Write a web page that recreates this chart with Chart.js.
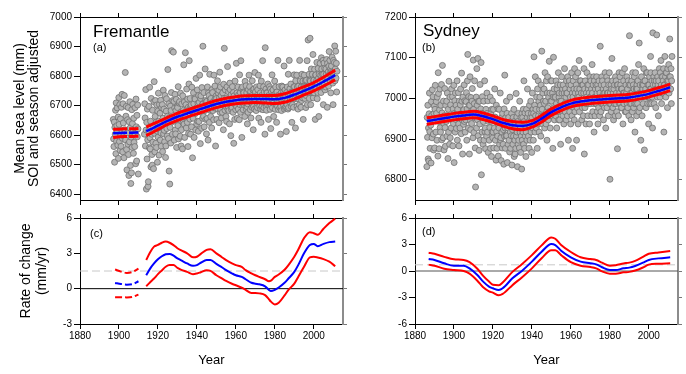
<!DOCTYPE html>
<html>
<head>
<meta charset="utf-8">
<script src="https://cdn.jsdelivr.net/npm/chart.js@4.4.1/dist/chart.umd.min.js"></script>
<style>
  body { margin: 0; background: #fff; }
  #wrap { position: relative; width: 686px; height: 374px; }
  canvas { position: absolute; }
</style>
</head>
<body>
<div id="wrap">
  <canvas id="fremLevel" width="351" height="212" style="left:0;top:0"></canvas>
  <canvas id="sydLevel" width="346" height="212" style="left:340px;top:0"></canvas>
  <canvas id="fremRate" width="351" height="174" style="left:0;top:200px"></canvas>
  <canvas id="sydRate" width="346" height="174" style="left:340px;top:200px"></canvas>
</div>
<script>
const FONT = '"Liberation Sans", Arial, sans-serif';

// tick labels
const yearTicks = [1880, 1900, 1920, 1940, 1960, 1980, 2000];
const fremLevelTicks = [6400, 6500, 6600, 6700, 6800, 6900, 7000];
const sydLevelTicks = [6800, 6900, 7000, 7100, 7200];
const fremRateTicks = [-3, 0, 3, 6];
const sydRateTicks = [-6, -3, 0, 3, 6];

// mean sea level samples (mm), [year, values...]
const fremLevels = [
  [1897, 6653,6587,6561,6644,6508,6626], [1898, 6603,6684,6537,6709,6579,6632],
  [1899, 6692,6614,6566,6661,6521,6727], [1900, 6636,6578,6703,6548,6655,6598],
  [1901, 6562,6694,6617,6738,6589,6543], [1902, 6706,6641,6597,6523,6734,6612],
  [1903, 6618,6812,6583,6664,6697,6551], [1904, 6482,6607,6652,6569,6693,6534],
  [1905, 6463,6645,6577,6713,6624,6497], [1906, 6436,6593,6472,6686,6558,6639],
  [1907, 6704,6612,6538,6657,6575,6606], [1908, 6561,6693,6604,6503,6722,6628],
  [1909, 6512,6667,6594,6702,6621,6468],
  [1913, 6603,6706,6658,6563,6754,6617], [1914, 6417,6643,6519,6688,6584,6426],
  [1915, 6442,6614,6697,6557,6762,6591], [1916, 6553,6647,6492,6724,6603,6534],
  [1917, 6498,6684,6576,6626,6486,6713], [1918, 6781,6606,6543,6663,6717,6572],
  [1919, 6644,6558,6702,6613,6508,6681], [1920, 6593,6742,6647,6532,6704,6618],
  [1921, 6674,6583,6718,6607,6562,6693], [1922, 6628,6703,6544,6657,6752,6604],
  [1923, 6688,6616,6577,6734,6642,6524], [1924, 6563,6681,6723,6622,6597,6664],
  [1925, 6822,6643,6588,6706,6478,6659], [1926, 6434,6626,6698,6573,6683,6744],
  [1927, 6886,6657,6603,6717,6646,6881], [1928, 6651,6714,6583,6692,6738,6617],
  [1929, 6604,6683,6721,6558,6652,6697], [1930, 6693,6632,6764,6587,6663,6708],
  [1931, 6713,6654,6596,6742,6677,6563], [1932, 6618,6706,6668,6553,6733,6642],
  [1933, 6684,6838,6637,6712,6592,6665], [1934, 6879,6661,6703,6624,6756,6687],
  [1935, 6643,6722,6561,6694,6606,6773], [1936, 6852,6688,6654,6724,6603,6698],
  [1937, 6703,6628,6762,6677,6523,6664], [1938, 6657,6743,6706,6592,6688,6726],
  [1939, 6722,6673,6617,6792,6684,6638], [1940, 6694,6753,6647,6708,6613,6734],
  [1941, 6646,6711,6803,6683,6571,6724], [1942, 6733,6677,6623,6761,6703,6657],
  [1943, 6901,6706,6663,6744,6628,6692], [1944, 6683,6824,6717,6653,6712,6604],
  [1945, 6714,6656,6763,6693,6583,6742], [1946, 6698,6734,6643,6806,6684,6718],
  [1947, 6663,6724,6687,6624,6754,6696], [1948, 6744,6683,6713,6652,6803,6697],
  [1949, 6692,6766,6723,6563,6704,6733], [1950, 6724,6653,6697,6784,6688,6743],
  [1951, 6703,6752,6642,6726,6813,6677], [1952, 6763,6687,6734,6658,6714,6703],
  [1953, 6677,6743,6706,6618,6772,6724], [1954, 6894,6713,6684,6753,6697,6663],
  [1955, 6724,6646,6763,6704,6832,6687], [1956, 6697,6746,6683,6723,6638,6776],
  [1957, 6754,6703,6598,6736,6687,6716], [1958, 6693,6764,6717,6677,6744,6572],
  [1959, 6733,6706,6653,6783,6714,6686], [1960, 6716,6843,6697,6743,6657,6724],
  [1961, 6763,6688,6736,6713,6652,6804], [1962, 6703,6744,6677,6852,6726,6758],
  [1963, 6592,6724,6763,6697,6686,6746], [1964, 6743,6703,6726,6663,6782,6707],
  [1965, 6724,6767,6687,6743,6696,6638], [1966, 6706,6677,6754,6723,6803,6733],
  [1967, 6764,6713,6686,6747,6658,6724], [1968, 6733,6694,6784,6706,6753,6618],
  [1969, 6697,6756,6723,6688,6812,6743], [1970, 6746,6717,6683,6763,6697,6734],
  [1971, 6693,6754,6726,6803,6657,6713], [1972, 6724,6698,6767,6743,6688,6643],
  [1973, 6783,6734,6697,6727,6852,6686], [1974, 6713,6764,6693,6746,6717,6603],
  [1975, 6896,6723,6756,6697,6684,6744], [1976, 6743,6703,6773,6726,6653,6734],
  [1977, 6717,6764,6698,6687,6756,6622], [1978, 6703,6746,6733,6804,6693,6717],
  [1979, 6753,6708,6663,6734,6726,6783], [1980, 6724,6687,6763,6743,6704,6643],
  [1981, 6746,6717,6697,6853,6734,6686], [1982, 6713,6764,6727,6693,6724,6603],
  [1983, 6697,6743,6683,6766,6717,6736], [1984, 6763,6724,6703,6747,6834,6688],
  [1985, 6726,6753,6693,6733,6697,6612], [1986, 6744,6703,6763,6718,6688,6806],
  [1987, 6693,6734,6853,6713,6757,6724], [1988, 6736,6773,6697,6746,6643,6723],
  [1989, 6703,6746,6724,6694,6763,6804], [1990, 6764,6723,6743,6624,6784,6736],
  [1991, 6746,6803,6697,6763,6726,6688], [1992, 6723,6766,6744,6703,6853,6734],
  [1993, 6784,6743,6694,6763,6717,6806], [1994, 6753,6726,6783,6653,6744,6766],
  [1995, 6803,6763,6724,6746,6784,6693], [1996, 6734,6786,6763,6852,6703,6753],
  [1997, 6922,6764,6743,6806,6724,6786], [1998, 6928,6783,6703,6766,6824,6746],
  [1999, 6763,6806,6744,6873,6726,6784], [2000, 6786,6743,6823,6764,6653,6803],
  [2001, 6804,6763,6784,6846,6723,6776], [2002, 6744,6826,6793,6663,6806,6764],
  [2003, 6783,6843,6766,6803,6744,6862], [2004, 6824,6763,6806,6784,6853,6703],
  [2005, 6806,6844,6774,6826,6753,6793], [2006, 6763,6824,6806,6856,6783,6694],
  [2007, 6843,6793,6814,6766,6833,6883], [2008, 6806,6853,6784,6824,6743,6816],
  [2009, 6834,6793,6864,6813,6776,6703], [2010, 6853,6816,6793,6846,6902,6784],
  [2011, 6824,6884,6793,6843,6746,6816]
];

const sydLevels = [
  [1886, 6832,6953,6904,6983,6851,6927], [1887, 6846,6962,7013,6918,6877,6943],
  [1888, 6934,6841,6992,6958,6903,7021], [1889, 6948,7004,6912,6873,6963,6981],
  [1890, 6878,6973,7032,6944,6917,6992], [1891, 6963,6897,7003,6947,6858,7063],
  [1892, 7012,6943,6876,6972,7023,6928], [1893, 6917,6983,6952,7034,6898,6964],
  [1894, 7081,6954,6903,6993,6938,6873], [1895, 6957,7024,6928,6882,6983,6947],
  [1896, 6943,6993,6907,7013,6958,6852], [1897, 6973,6917,7042,6953,6887,7003],
  [1898, 6903,6984,6957,6927,7023,6952], [1899, 6947,7004,6883,6974,6938,7032],
  [1900, 6842,6963,6994,6917,7013,6948], [1901, 6983,6926,6963,7043,6897,6973],
  [1902, 6958,7014,6937,6883,6993,6952], [1903, 6927,6984,7023,6957,6913,7062],
  [1904, 6993,6947,6863,7003,6967,6936], [1905, 6972,7033,6943,6994,6917,6958],
  [1906, 6947,6992,7014,6897,6974,7043], [1907, 7108,6957,6927,7004,6983,6863],
  [1908, 6983,7053,6946,6923,7002,6968], [1909, 6938,6993,7024,6957,6903,7094],
  [1910, 6973,6916,6987,7043,6953,6878], [1911, 6782,6964,7003,6927,7073,6983],
  [1912, 6947,7098,6908,6993,6963,6872], [1913, 6993,6937,7034,6897,6974,7088],
  [1914, 6812,6963,6917,7004,6948,6887], [1915, 6943,6993,6897,6964,7043,6918],
  [1916, 6927,6876,6973,6952,6907,7013], [1917, 6963,6917,6994,6867,6943,6953],
  [1918, 6897,6953,6928,7003,6877,6964], [1919, 6943,6857,6973,6918,6994,6903],
  [1920, 6917,6973,6878,6953,6927,7023], [1921, 6954,6897,6943,6848,6983,6918],
  [1922, 6877,6943,6907,6974,6858,6933], [1923, 6927,6973,6887,6943,7013,6897],
  [1924, 6903,6847,6953,6917,6878,6963], [1925, 6943,6887,6923,6838,6974,6907],
  [1926, 7057,6927,6877,6953,6908,6993], [1927, 6908,6963,6842,6927,6887,6943],
  [1928, 6953,6897,6934,6868,7003,6917], [1929, 6877,6943,6908,6963,6836,6927],
  [1930, 6923,6887,6953,6907,6973,6857], [1931, 6943,6897,6863,6927,6877,7012],
  [1932, 6907,6954,6917,6832,6943,6887], [1933, 6963,6897,6936,6878,6993,6917],
  [1934, 6927,6867,6953,6907,6826,6963], [1935, 6897,6953,6917,6973,6887,7043],
  [1936, 6943,6877,6964,6907,6933,6857], [1937, 6917,6973,6897,6953,7023,6937],
  [1938, 6963,6907,6943,6877,6983,6927], [1939, 6897,6953,6993,6917,6963,6867],
  [1940, 6953,7013,6927,6973,6897,6963], [1941, 7102,6937,6983,6917,7053,6957],
  [1942, 6973,6927,7003,6947,6877,7023], [1943, 6937,7043,6957,6993,6917,6973],
  [1944, 7003,6947,6983,6907,7033,6957], [1945, 7116,6973,6937,7013,6957,6993],
  [1946, 6957,7023,6987,6927,7063,6947], [1947, 6993,6937,7043,6967,6897,7013],
  [1948, 7053,6977,6947,7003,6967,7091], [1949, 6967,7013,6927,6993,7043,6957],
  [1950, 6993,7043,6957,7013,6877,7003], [1951, 7101,6977,7023,6947,7003,6967],
  [1952, 7003,6957,7043,6987,6927,7023], [1953, 6977,7033,6967,7063,6947,7003],
  [1954, 7013,6947,6993,7033,6887,6977], [1955, 6993,7053,7013,6967,7023,6957],
  [1956, 7033,6977,6937,7013,7073,6987], [1957, 6967,7023,7003,6947,7043,7013],
  [1958, 7013,6957,7053,6987,6897,7033], [1959, 6987,7043,6967,7023,7003,6937],
  [1960, 7033,6987,7063,6957,7013,6877], [1961, 7003,7043,6977,7023,6947,7073],
  [1962, 6967,7013,7053,6987,7033,6897], [1963, 7023,6977,7003,7063,6937,7013],
  [1964, 7003,7093,6967,7023,6987,7043], [1965, 7043,6987,7013,6947,7033,6977],
  [1966, 6987,7033,6957,7013,7073,6863], [1967, 7023,6977,7043,6987,6937,7013],
  [1968, 7003,7063,6987,7033,6957,7023], [1969, 7033,6987,7013,6937,7053,7003],
  [1970, 6987,7043,7003,7023,6957,7083], [1971, 7013,6967,7033,6987,7053,6917],
  [1972, 7043,7003,6957,7023,6987,7033], [1973, 6987,7053,7013,6967,7033,6937],
  [1974, 7023,6977,7043,7003,6957,7013], [1975, 7128,7003,6967,7033,6987,7053],
  [1976, 7003,7043,6987,7023,6947,7013], [1977, 7033,6977,7013,7063,7003,6927],
  [1978, 6987,7023,7053,6977,7013,7043], [1979, 7013,6957,7033,7003,7063,6987],
  [1980, 6801,7013,6987,7033,6967,7023], [1981, 7098,7003,7043,6977,7013,6947],
  [1982, 7023,6987,7033,7003,6957,7053], [1983, 6987,7043,7013,6967,7033,6876],
  [1984, 7033,7003,6957,7023,7063,6987], [1985, 7013,7053,6987,7033,6977,7023],
  [1986, 6977,7023,7063,7003,6937,7013], [1987, 7043,6987,7013,7073,7003,6967],
  [1988, 7003,7033,6967,7013,7053,6987], [1989, 7023,6977,7043,7003,6957,7033],
  [1990, 7154,7003,6987,7033,7013,6947], [1991, 6987,7043,7013,6967,7063,7003],
  [1992, 7033,6977,7023,7053,6987,6917], [1993, 7003,7063,6987,7023,6957,7033],
  [1994, 7023,6987,7043,7003,7083,6967], [1995, 7136,7013,6977,7033,7003,6897],
  [1996, 7013,7053,7003,6957,7033,7023], [1997, 6987,7033,7073,7013,6873,7043],
  [1998, 7043,7003,7023,6977,7063,7013], [1999, 7013,7063,6987,7033,7003,6937],
  [2000, 7033,7003,7053,6987,7023,7103], [2001, 7063,7023,6987,7043,7003,6927],
  [2002, 7161,7033,7013,7053,6987,7043], [2003, 7013,7063,7033,6977,7043,7023],
  [2004, 7156,7023,7003,7053,7033,6957], [2005, 7043,7013,7073,7023,7003,7063],
  [2006, 7023,7093,7033,6987,7053,7013], [2007, 7053,7013,7043,7073,6917,7033],
  [2008, 7033,7103,7023,7053,7003,7063], [2009, 7063,7023,7043,6977,7073,7033],
  [2010, 7043,7083,7013,7053,7146,7023], [2011, 7053,7023,7073,6987,7043,7103]
];

// fitted trend (mm) with confidence limits
const fremEarlyYears = [1897, 1900, 1903, 1906, 1910];
const fremEarlyTrend = [6606, 6607, 6608, 6608, 6609];
const fremEarlyUpper = [6620, 6620, 6621, 6621, 6622];
const fremEarlyLower = [6592, 6594, 6595, 6595, 6596];
const fremYears = [1914, 1917, 1920, 1925, 1930, 1935, 1940, 1945, 1950, 1955, 1960, 1965, 1970, 1975, 1980, 1985, 1990, 1995, 2000, 2005, 2011];
const fremTrend = [6613, 6622, 6632, 6648, 6662, 6673, 6684, 6695, 6705, 6713, 6718, 6721, 6722, 6722, 6721, 6726, 6737, 6750, 6764, 6781, 6803];
const fremUpper = [6628, 6636, 6645, 6660, 6674, 6685, 6696, 6707, 6717, 6725, 6730, 6733, 6734, 6734, 6734, 6740, 6751, 6764, 6778, 6796, 6820];
const fremLower = [6598, 6608, 6619, 6636, 6650, 6661, 6672, 6683, 6693, 6701, 6706, 6709, 6710, 6709, 6707, 6711, 6722, 6736, 6750, 6766, 6787];

const sydYears = [1886, 1890, 1895, 1900, 1905, 1910, 1915, 1920, 1925, 1930, 1935, 1940, 1945, 1950, 1955, 1960, 1965, 1970, 1975, 1980, 1985, 1990, 1995, 2000, 2005, 2011];
const sydTrend = [6944, 6947, 6951, 6955, 6958, 6960, 6956, 6949, 6940, 6934, 6932, 6937, 6950, 6966, 6978, 6987, 6992, 6995, 6997, 6999, 7000, 7002, 7006, 7011, 7018, 7027];
const sydUpper = [6952, 6955, 6959, 6963, 6966, 6968, 6964, 6957, 6948, 6943, 6941, 6945, 6958, 6974, 6986, 6995, 7000, 7003, 7005, 7007, 7008, 7010, 7014, 7019, 7026, 7035];
const sydLower = [6936, 6939, 6943, 6947, 6950, 6952, 6948, 6941, 6932, 6925, 6923, 6929, 6942, 6958, 6970, 6979, 6984, 6987, 6989, 6991, 6992, 6994, 6998, 7003, 7010, 7019];

// rate of change (mm/yr)
const fremRateEarlyYears = [1898, 1901, 1904, 1907, 1910];
const fremRateEarly = [0.49, 0.40, 0.34, 0.38, 0.63];
const fremRateEarlyUpper = [1.63, 1.45, 1.34, 1.42, 1.70];
const fremRateEarlyLower = [-0.72, -0.72, -0.74, -0.70, -0.50];
const fremRateYears = [1914, 1916, 1918, 1920, 1922, 1924, 1926, 1928, 1930, 1932, 1935, 1938, 1940, 1942, 1945, 1947, 1950, 1953, 1955, 1958, 1960, 1963, 1965, 1968, 1970, 1972, 1975, 1977, 1978, 1980, 1982, 1985, 1987, 1990, 1992, 1995, 1998, 2000, 2002, 2005, 2008, 2011];
const fremRate = [1.14, 1.7, 2.14, 2.5, 2.75, 2.92, 2.95, 2.8, 2.57, 2.4, 2.14, 1.94, 2.0, 2.2, 2.43, 2.43, 2.1, 1.8, 1.57, 1.3, 1.14, 1.0, 0.8, 0.5, 0.42, 0.37, 0.2, -0.1, -0.2, -0.1, 0.1, 0.5, 0.86, 1.43, 2.0, 3.0, 3.7, 3.8, 3.6, 3.8, 3.95, 4.0];
const fremRateUpper = [2.43, 3.1, 3.57, 3.71, 3.9, 4.0, 3.9, 3.7, 3.43, 3.25, 3.0, 2.66, 2.71, 2.95, 3.29, 3.34, 3.0, 2.65, 2.43, 2.15, 2.0, 1.86, 1.57, 1.3, 1.14, 1.0, 0.8, 0.63, 0.68, 1.0, 1.2, 1.6, 2.0, 2.71, 3.3, 4.29, 4.8, 4.71, 4.57, 5.09, 5.57, 5.94];
const fremRateLower = [0.2, 0.55, 0.86, 1.23, 1.55, 1.86, 2.0, 2.0, 1.77, 1.6, 1.43, 1.23, 1.29, 1.4, 1.57, 1.51, 1.14, 0.85, 0.66, 0.42, 0.29, 0.09, -0.1, -0.37, -0.37, -0.4, -0.55, -0.91, -1.1, -1.34, -1.2, -0.57, -0.1, 0.43, 1.0, 1.86, 2.66, 2.71, 2.65, 2.51, 2.29, 1.91];
const fremMeanRate = 1.5;

const sydRateYears = [1887, 1890, 1895, 1900, 1905, 1908, 1912, 1915, 1918, 1920, 1923, 1925, 1930, 1935, 1940, 1945, 1950, 1952, 1955, 1960, 1965, 1970, 1973, 1976, 1980, 1983, 1987, 1990, 1993, 1997, 2000, 2005, 2011];
const sydRate = [1.36, 1.25, 0.87, 0.6, 0.6, 0.3, -0.45, -1.2, -1.77, -1.96, -2.15, -1.96, -0.83, 0.04, 1.06, 2.19, 3.06, 2.94, 2.3, 1.55, 1.06, 0.87, 0.75, 0.42, 0.11, 0.11, 0.3, 0.38, 0.57, 0.94, 1.25, 1.43, 1.55];
const sydRateUpper = [2.07, 1.95, 1.6, 1.32, 1.25, 1.0, 0.25, -0.55, -1.2, -1.55, -1.6, -1.3, -0.1, 0.8, 1.8, 2.9, 3.8, 3.65, 2.95, 2.15, 1.55, 1.35, 1.25, 0.95, 0.6, 0.65, 0.85, 0.95, 1.15, 1.6, 1.95, 2.1, 2.26];
const sydRateLower = [0.72, 0.6, 0.25, 0.11, 0.0, -0.3, -1.1, -1.85, -2.3, -2.45, -2.75, -2.6, -1.6, -0.7, 0.3, 1.45, 2.35, 2.35, 1.8, 1.0, 0.6, 0.45, 0.3, -0.05, -0.3, -0.3, -0.15, -0.1, 0.05, 0.4, 0.72, 0.82, 0.87];
const sydMeanRate = 0.7;

Chart.defaults.font.family = FONT;
Chart.defaults.color = '#000';

function toPoints(xs, ys) {
  return xs.map((x, i) => ({ x: x, y: ys[i] }));
}

// spread each year's samples evenly through the year
function samplePoints(rows) {
  const pts = [];
  rows.forEach(row => {
    const vals = row.slice(1);
    vals.forEach((v, k) => pts.push({ x: row[0] + (k + 0.5) / vals.length, y: v }));
  });
  return pts;
}

function scatterSet(rows) {
  return {
    data: samplePoints(rows), showLine: false, order: 10,
    pointRadius: 3, pointBackgroundColor: '#b4b4b4',
    pointBorderColor: '#707070', pointBorderWidth: 0.8
  };
}

function lineSet(xs, ys, color, width, dash, order) {
  return {
    data: toPoints(xs, ys), borderColor: color, borderWidth: width,
    borderDash: dash || [], pointRadius: 0, order: order,
    cubicInterpolationMode: 'monotone', fill: false
  };
}

function flatSet(value, color, dash) {
  return {
    data: [{ x: 1880, y: value }, { x: 2015, y: value }],
    borderColor: color, borderWidth: 1, borderDash: dash || [],
    pointRadius: 0, order: 20
  };
}

const panelText = {
  id: 'panelText',
  afterDraw(chart, args, opts) {
    const { ctx, chartArea } = chart;
    ctx.save();
    ctx.fillStyle = '#000';
    ctx.textBaseline = 'alphabetic';
    (opts.items || []).forEach(t => {
      ctx.font = t.size + 'px ' + FONT;
      ctx.fillText(t.text, chartArea.left + t.dx, chartArea.top + t.dy);
    });
    ctx.restore();
  }
};

function setTicks(list) {
  return s => { s.ticks = list.map(v => ({ value: v })); };
}

const plainLabel = v => String(v);

function makeScales(o) {
  return {
    x: {
      type: 'linear', position: 'bottom', min: 1880, max: 2015,
      afterBuildTicks: setTicks(yearTicks),
      afterFit: s => { s.height = o.bottomH; },
      grid: { drawOnChartArea: false, tickLength: 5, color: '#000' },
      border: { color: '#000', width: 1 },
      ticks: { display: o.xLabels, font: { size: 10 }, padding: 1, maxRotation: 0, autoSkip: false, callback: plainLabel },
      title: { display: o.xLabels, text: 'Year', font: { size: 13 }, padding: { top: 0, bottom: 6 } }
    },
    xTop: {
      type: 'linear', position: 'top', min: 1880, max: 2015,
      afterBuildTicks: setTicks(yearTicks),
      afterFit: s => { s.height = o.topH; },
      grid: { drawOnChartArea: false, tickLength: 4, color: '#000' },
      border: { color: '#000', width: 1 },
      ticks: { display: false }
    },
    y: {
      type: 'linear', position: 'left', min: o.yMin, max: o.yMax,
      afterBuildTicks: setTicks(o.yTicks),
      afterFit: s => { s.width = o.leftW; },
      grid: { drawOnChartArea: false, tickLength: 6, color: '#000' },
      border: { color: '#000', width: 1 },
      ticks: { font: { size: 10 }, padding: 2, autoSkip: false, callback: plainLabel },
      title: o.yTitle ? {
        display: true, text: o.yTitle,
        font: { size: 14, lineHeight: o.titleLH },
        padding: { top: o.titlePad, bottom: 0 }
      } : { display: false }
    },
    yRight: {
      type: 'linear', position: 'right', min: o.yMin, max: o.yMax,
      afterBuildTicks: setTicks(o.yTicks),
      afterFit: s => { s.width = 8; },
      grid: { drawOnChartArea: false, tickLength: 4, color: '#777' },
      border: { color: '#8c8c8c', width: 2 },
      ticks: { display: false }
    }
  };
}

function makeChart(id, datasets, scaleOpts, labels) {
  return new Chart(document.getElementById(id), {
    type: 'line',
    data: { datasets: datasets },
    options: {
      responsive: false, animation: false, events: [],
      layout: { padding: 0 },
      plugins: { legend: { display: false }, tooltip: { enabled: false }, panelText: { items: labels } },
      scales: makeScales(scaleOpts)
    },
    plugins: [panelText]
  });
}

const RED = '#ff0000';
const BLUE = '#0000ff';

// (a) Fremantle sea level
makeChart('fremLevel', [
  scatterSet(fremLevels),
  lineSet(fremEarlyYears, fremEarlyUpper, RED, 3, [14, 2], 2),
  lineSet(fremEarlyYears, fremEarlyLower, RED, 3, [14, 2], 2),
  lineSet(fremEarlyYears, fremEarlyTrend, BLUE, 2.5, [14, 2], 1),
  lineSet(fremYears, fremUpper, RED, 3, null, 2),
  lineSet(fremYears, fremLower, RED, 3, null, 2),
  lineSet(fremYears, fremTrend, BLUE, 2.5, null, 1)
], {
  yMin: 6380, yMax: 7000, yTicks: fremLevelTicks, leftW: 80, topH: 17, bottomH: 12,
  xLabels: false, yTitle: ['Mean sea level (mm)', 'SOI and season adjusted'], titleLH: 1.0, titlePad: 13
}, [
  { text: 'Fremantle', dx: 13, dy: 20, size: 17 },
  { text: '(a)', dx: 13, dy: 34, size: 11 }
]);

// (b) Sydney sea level
makeChart('sydLevel', [
  scatterSet(sydLevels),
  lineSet(sydYears, sydUpper, RED, 3, null, 2),
  lineSet(sydYears, sydLower, RED, 3, null, 2),
  lineSet(sydYears, sydTrend, BLUE, 2.5, null, 1)
], {
  yMin: 6750, yMax: 7200, yTicks: sydLevelTicks, leftW: 75, topH: 17, bottomH: 12,
  xLabels: false, yTitle: null
}, [
  { text: 'Sydney', dx: 8, dy: 19, size: 17 },
  { text: '(b)', dx: 7, dy: 34, size: 11 }
]);

// (c) Fremantle rate of change
makeChart('fremRate', [
  flatSet(0, '#000'),
  flatSet(fremMeanRate, '#c8c8c8', [8, 4]),
  lineSet(fremRateEarlyYears, fremRateEarlyUpper, RED, 2, [7, 3], 2),
  lineSet(fremRateEarlyYears, fremRateEarlyLower, RED, 2, [7, 3], 2),
  lineSet(fremRateEarlyYears, fremRateEarly, BLUE, 2, [7, 3], 1),
  lineSet(fremRateYears, fremRateUpper, RED, 2, null, 2),
  lineSet(fremRateYears, fremRateLower, RED, 2, null, 2),
  lineSet(fremRateYears, fremRate, BLUE, 2, null, 1)
], {
  yMin: -3, yMax: 6, yTicks: fremRateTicks, leftW: 80, topH: 18, bottomH: 50,
  xLabels: true, yTitle: ['Rate of change', '(mm/yr)'], titleLH: 1.15, titlePad: 18
}, [
  { text: '(c)', dx: 10, dy: 19, size: 11 }
]);

// (d) Sydney rate of change
makeChart('sydRate', [
  flatSet(0, '#555'),
  flatSet(sydMeanRate, '#c8c8c8', [8, 4]),
  lineSet(sydRateYears, sydRateUpper, RED, 2, null, 2),
  lineSet(sydRateYears, sydRateLower, RED, 2, null, 2),
  lineSet(sydRateYears, sydRate, BLUE, 2, null, 1)
], {
  yMin: -6, yMax: 6, yTicks: sydRateTicks, leftW: 75, topH: 18, bottomH: 50,
  xLabels: true, yTitle: null
}, [
  { text: '(d)', dx: 7, dy: 17, size: 11 }
]);
</script>
</body>
</html>
